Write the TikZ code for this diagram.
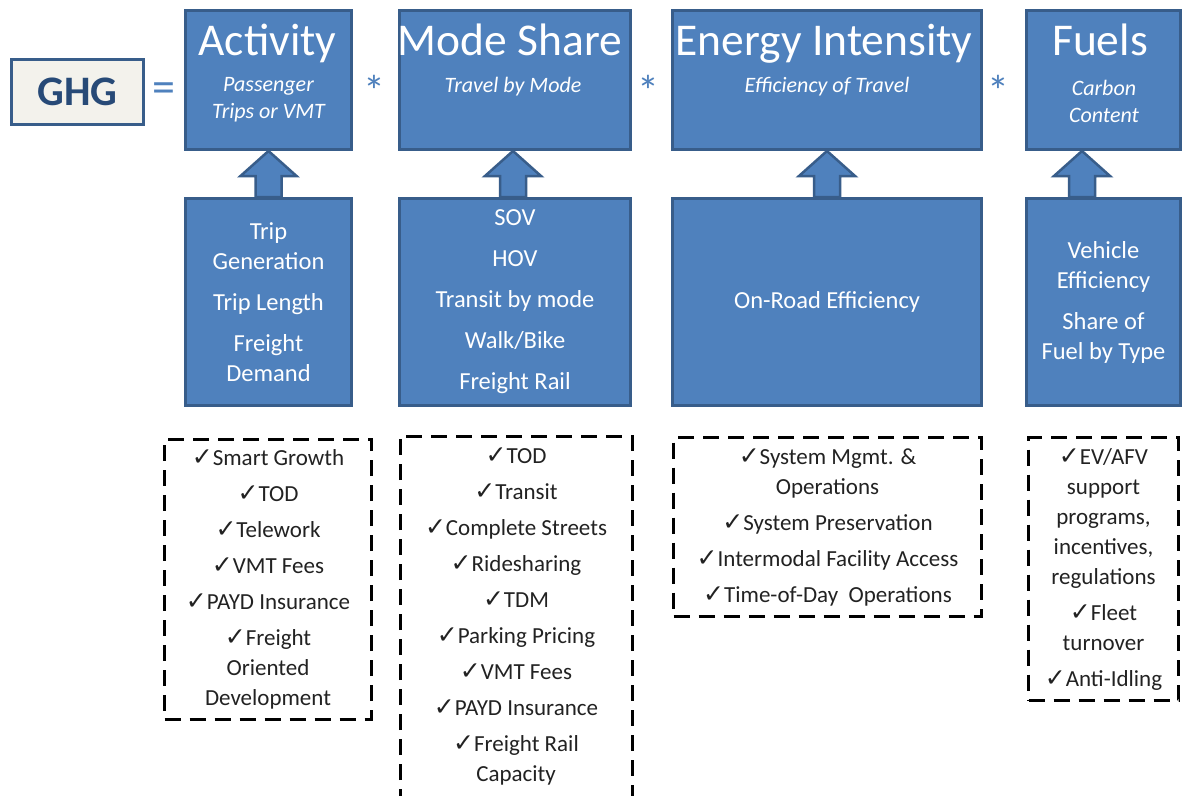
\documentclass[tikz,border=0pt]{standalone}
\usepackage{fontspec}
\setmainfont{Carlito}
\newfontfamily\symfont{DejaVu Sans}
\usetikzlibrary{calc}
\definecolor{boxfill}{HTML}{4F81BD}
\definecolor{boxline}{HTML}{385D8A}
\definecolor{ghgfill}{HTML}{F3F2EC}
\definecolor{ghgtext}{HTML}{274A77}
\definecolor{optext}{HTML}{4F81BD}
\definecolor{listtext}{HTML}{222222}
\newcommand\ck{{\symfont\fontsize{25}{25}\selectfont ✓}}
\newcommand\uparr[3]{\draw[arrowshape] ($(#2.north)+(#3-13,0)$) -- ++(0,-21) -- ++(-15,0) -- ($(#1.south)+(#3,0)$) -- ($(#2.north)+(#3+28,-21)$) -- ++(-15,0) -- ++(0,21) -- cycle;}
\begin{document}
\begin{tikzpicture}[x=1pt,y=-1pt,
  bluebox/.style={draw=boxline,line width=3pt,fill=boxfill,inner sep=0pt,text=white},
  topbox/.style={bluebox,minimum height=139pt},
  lowbox/.style={bluebox,minimum height=207pt,align=center,font=\fontsize{24.5}{30}\selectfont},
  titletext/.style={text=white,anchor=base,inner sep=0pt,font=\fontsize{45.5}{45}\selectfont},
  subtext/.style={text=white,align=center,inner sep=0pt,font=\fontsize{22}{27}\selectfont\itshape},
  dashbox/.style={draw=black,line width=3pt,dash pattern=on 16pt off 9pt},
  listnode/.style={align=center,inner sep=0pt,text=listtext,font=\fontsize{23}{30}\selectfont},
  op/.style={text=optext,inner sep=0pt},
  arrowshape/.style={fill=boxfill,draw=boxline,line width=2.5pt,line join=miter}
]
\useasboundingbox (0,0) rectangle (1183,795);
\fill[white] (0,0) rectangle (1183,795);

% GHG
\node[draw=boxline,line width=3pt,fill=ghgfill,minimum width=132pt,minimum height=65pt,
  text=ghgtext,font=\fontsize{42}{42}\selectfont\bfseries] (ghg) at (77.5,92) {GHG};
\node[op,font=\fontsize{46}{46}\selectfont] (eq) at (164,93) {=};
\node[op,font=\fontsize{44}{44}\selectfont] (s1) at (374,91) {*};
\node[op,font=\fontsize{44}{44}\selectfont] (s2) at (648,91) {*};
\node[op,font=\fontsize{44}{44}\selectfont] (s3) at (998,91) {*};

% top boxes
\node[topbox,minimum width=166pt] (act) at (268.5,80) {};
\node[topbox,minimum width=231pt] (mode) at (515,80) {};
\node[topbox,minimum width=309pt] (energy) at (827,80) {};
\node[topbox,minimum width=154pt] (fuel) at (1103.5,80) {};

\node[titletext] (actT) at (267.5,55) {Activity};
\node[titletext] (modeT) at (510,55) {Mode Share};
\node[titletext] (energyT) at (824,55) {Energy Intensity};
\node[titletext] (fuelT) at (1100,55) {Fuels};

\node[subtext] (actS) at (268.5,100) {Passenger\\Trips or VMT};
\node[subtext] (modeS) at (513,87) {Travel by Mode};
\node[subtext] (energyS) at (827,87) {Efficiency of Travel};
\node[subtext] (fuelS) at (1104,101) {Carbon\\Content};

% lower boxes
\node[lowbox,minimum width=166pt] (actL) at (268.5,302) {Trip\\Generation\\[11pt]Trip Length\\[11pt]Freight\\Demand};
\node[lowbox,minimum width=231pt] (modeL) at (515,302) {SOV\\[11pt]HOV\\[11pt]Transit by mode\\[11pt]Walk/Bike\\[11pt]Freight Rail};
\node[lowbox,minimum width=309pt] (energyL) at (827,302) {On-Road Efficiency};
\node[lowbox,minimum width=154pt] (fuelL) at (1103.5,302) {Vehicle\\Efficiency\\[11pt]Share of\\Fuel by Type};

% arrows
\uparr{act}{actL}{0}
\uparr{mode}{modeL}{-2}
\uparr{energy}{energyL}{0}
\uparr{fuel}{fuelL}{-21.5}

% dashed lists
\node[dashbox,listnode,minimum width=207pt,minimum height=280pt] (actD) at (268,579)
 {\ck Smart Growth\\[6pt]\ck TOD\\[6pt]\ck Telework\\[6pt]\ck VMT Fees\\[6pt]\ck PAYD Insurance\\[6pt]\ck Freight\\Oriented\\Development};
\node[listnode] (modeD) at (516,616)
 {\ck TOD\\[6pt]\ck Transit\\[6pt]\ck Complete Streets\\[6pt]\ck Ridesharing\\[6pt]\ck TDM\\[6pt]\ck Parking Pricing\\[6pt]\ck VMT Fees\\[6pt]\ck PAYD Insurance\\[6pt]\ck Freight Rail\\Capacity};
\coordinate (modeDbl) at (400,805);
\coordinate (modeDtr) at (632,436);
\draw[dashbox] (modeDbl) |- (modeDtr) -- (modeDtr |- modeDbl);
\node[dashbox,listnode,minimum width=308pt,minimum height=179pt] (energyD) at (827.5,527)
 {\ck System Mgmt. \&\\Operations\\[6pt]\ck System Preservation\\[6pt]\ck Intermodal Facility Access\\[6pt]\ck Time-of-Day\ \ Operations};
\node[dashbox,listnode,minimum width=150pt,minimum height=263pt] (fuelD) at (1103.5,569)
 {\ck EV/AFV\\support\\programs,\\incentives,\\regulations\\[6pt]\ck Fleet\\turnover\\[6pt]\ck Anti-Idling};
\end{tikzpicture}
\end{document}
